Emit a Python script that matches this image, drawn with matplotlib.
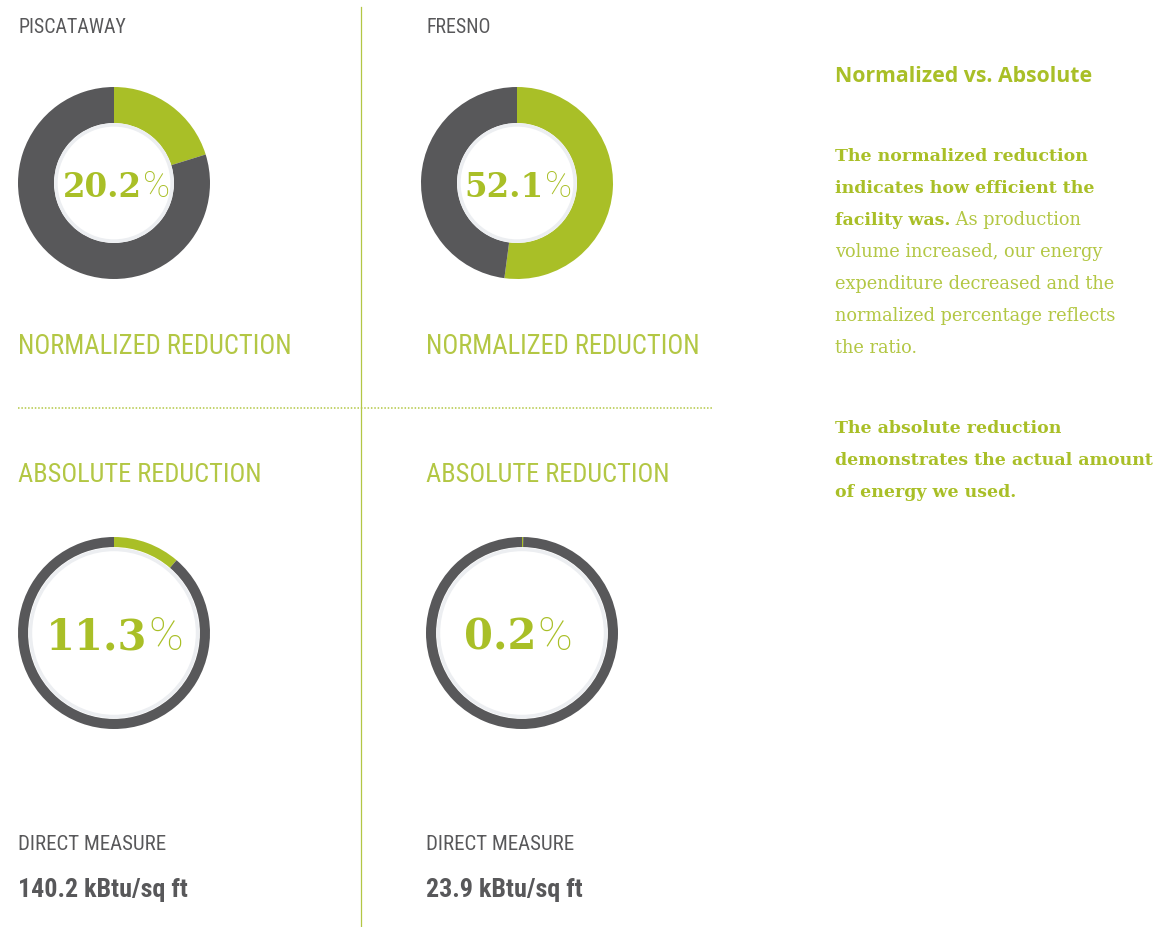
import matplotlib.pyplot as plt
from matplotlib.patches import Circle
from matplotlib import font_manager

# values
sites = ["PISCATAWAY", "FRESNO"]
normalized = [20.2, 52.1]
absolute = [11.3, 0.2]
direct_measure = [140.2, 23.9]
unit = "kBtu/sq ft"

GREEN = "#a9bf27"
GREEN_LIGHT = "#b3c744"
GRAY = "#58585a"
RING = "#eceef1"

W, H = 1156, 928
fig = plt.figure(figsize=(W / 100, H / 100), dpi=100)
fig.patch.set_facecolor("white")

# overlay in pixel coordinates for text and rules
ov = fig.add_axes([0, 0, 1, 1])
ov.set_xlim(0, W)
ov.set_ylim(H, 0)
ov.axis("off")
ov.set_zorder(5)
ov.patch.set_alpha(0)

# pick a narrow sans if one is installed
installed = font_manager.fontManager.ttflist
names = {f.name for f in installed}
if "Roboto Condensed" in names:
    narrow = dict(family="Roboto Condensed")
elif "Liberation Sans Narrow" in names:
    narrow = dict(family="Liberation Sans Narrow")
else:
    narrow = dict(family="DejaVu Sans")


def donut(cx, cy, value, width, ring_r, ring_w):
    r = 96
    ax = fig.add_axes([(cx - r) / W, (H - cy - r) / H, 2 * r / W, 2 * r / H])
    ax.pie([value, 100 - value], colors=[GREEN, GRAY], startangle=90,
           counterclock=False, radius=1, wedgeprops=dict(width=width, linewidth=0))
    ax.add_patch(Circle((0, 0), ring_r, facecolor="white", edgecolor=RING,
                        linewidth=ring_w))
    ax.set_xlim(-1, 1)
    ax.set_ylim(-1, 1)
    ax.set_aspect("equal")
    ax.axis("off")


def pct_label(cx, base, value, size):
    num = ov.text(0, base, f"{value:.1f}", color=GREEN, fontsize=size,
                  family="DejaVu Serif", fontweight="bold", va="baseline", ha="left")
    pc = ov.text(0, base, "%", color=GREEN, fontsize=size * 1.12,
                 family=["Roboto", "DejaVu Sans"], fontweight="light",
                 va="baseline", ha="left")
    return (cx, num, pc)


fitted = []  # (text, target width in px)


def head(x, y, s, color, size, width, **kw):
    t = ov.text(x, y, s, color=color, fontsize=size, va="baseline", **narrow, **kw)
    fitted.append((t, width))


labels = []
col_x = [18, 426]
top_cx = [116, 518]
bot_cx = [114, 518]

for i, site in enumerate(sites):
    x = col_x[i]
    head(x, 33, site, GRAY, 13, 128 if i == 0 else 78)
    donut([114, 517][i], 184, normalized[i], 0.375, 0.605, 2.5)
    labels.append(pct_label(top_cx[i], 197, normalized[i], 23.5))
    head(x, 354, "NORMALIZED REDUCTION", GREEN_LIGHT, 18, 274)
    head(x, 482, "ABSOLUTE REDUCTION", GREEN_LIGHT, 18, 244)
    donut([114, 522][i], 634, absolute[i], 0.105, 0.87, 2.5)
    labels.append(pct_label(bot_cx[i], 650, absolute[i], 30))
    head(x, 850, "DIRECT MEASURE", GRAY, 15, 148)
    head(x, 897, f"{direct_measure[i]} {unit}", GRAY, 17,
         174 if i == 0 else 163, fontweight="bold")

# divider rules
ov.plot([361, 361], [8, 928], color=GREEN_LIGHT, linewidth=0.9)
ov.plot([18, 712], [409, 409], color=GREEN_LIGHT, linewidth=1.1,
        linestyle=(0, (1, 1.2)))

# side notes
ov.text(835, 82, "Normalized vs. Absolute", color=GREEN, fontsize=15.3,
        family=["Open Sans", "DejaVu Sans"], fontweight="bold", va="baseline")

para1 = [
    ("The normalized reduction", ""),
    ("indicates how efficient the", ""),
    ("facility was.", " As production"),
    ("", "volume increased, our energy"),
    ("", "expenditure decreased and the"),
    ("", "normalized percentage reflects"),
    ("", "the ratio."),
]
para2 = [
    ("The absolute reduction", ""),
    ("demonstrates the actual amount", ""),
    ("of energy we used.", ""),
]

pairs = []
for lines, y0 in [(para1, 161), (para2, 433)]:
    for k, (bold, reg) in enumerate(lines):
        y = y0 + 32 * k
        tb = ov.text(835, y, bold, color=GREEN, fontsize=12.5, family="DejaVu Serif",
                     fontweight="bold", va="baseline")
        tr = ov.text(835, y, reg, color=GREEN_LIGHT, fontsize=12.8,
                     family="DejaVu Serif", va="baseline")
        pairs.append((tb, tr, bold))

fig.canvas.draw()
renderer = fig.canvas.get_renderer()
for t, target in fitted:
    w = t.get_window_extent(renderer).width
    t.set_fontsize(min(t.get_fontsize() * target / w, t.get_fontsize() * 1.1))
for cx, num, pc in labels:
    w1 = num.get_window_extent(renderer).width
    w2 = pc.get_window_extent(renderer).width
    left = cx - (w1 + w2) / 2
    num.set_x(left)
    pc.set_x(left + w1 + 1)
for tb, tr, bold in pairs:
    if bold:
        tr.set_x(835 + tb.get_window_extent(renderer).width)

fig.savefig("out.png", dpi=100, facecolor="white")
